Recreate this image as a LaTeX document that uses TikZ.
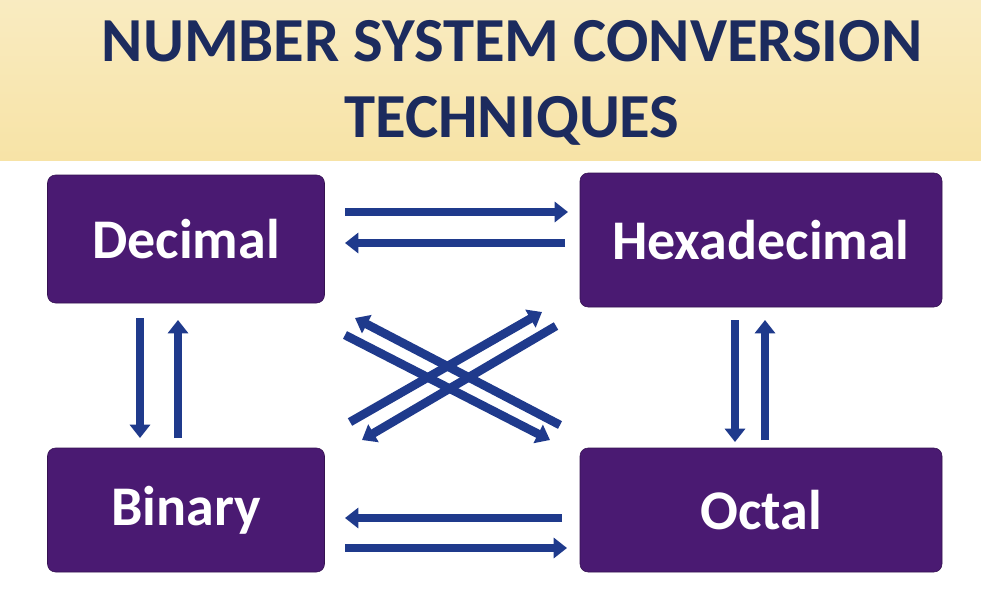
\documentclass[tikz,border=0pt]{standalone}
\usepackage{fontspec}
\setmainfont{Carlito}
\usetikzlibrary{arrows.meta}
\definecolor{banner}{HTML}{F7E3A6}
\definecolor{navy}{HTML}{1C2B5E}
\definecolor{boxpurple}{HTML}{4A1A72}
\definecolor{arrowblue}{HTML}{1F3A8C}
\tikzset{
  numbox/.style={draw=boxpurple!70!black, fill=boxpurple, rounded corners=6pt, text=white,
    font=\fontsize{42}{46}\selectfont\bfseries, inner sep=0pt},
  conv/.style={draw=arrowblue, line width=6.5pt, -{Triangle[length=10pt,width=15pt]}},
}
\begin{document}
\begin{tikzpicture}[x=0.75pt,y=-0.75pt]
\useasboundingbox (0,0) rectangle (981,590);
\fill[white] (0,0) rectangle (981,590);
\shade[top color=banner!70!white, bottom color=banner] (0,0) rectangle (981,160);
\node[text=navy, font=\fontsize{47}{57}\selectfont\bfseries, align=center] (title) at (512,83)
  {NUMBER SYSTEM CONVERSION\\TECHNIQUES};

\node[numbox, minimum width=277*0.75pt, minimum height=128*0.75pt] (dec) at (186,239) {Decimal};
\node[numbox, minimum width=362*0.75pt, minimum height=134*0.75pt] (hex) at (761,240) {Hexadecimal};
\node[numbox, minimum width=277*0.75pt, minimum height=124*0.75pt] (bin) at (186,510) {Binary};
\node[numbox, minimum width=362*0.75pt, minimum height=124*0.75pt] (oct) at (761,510) {Octal};

% horizontal pairs
\coordinate (a1) at (345,212); \coordinate (a2) at (568,212);
\coordinate (b1) at (565,243); \coordinate (b2) at (345,243);
\draw[conv] (a1) -- (a2);
\draw[conv] (b1) -- (b2);
\coordinate (c1) at (562,518); \coordinate (c2) at (345,518);
\coordinate (d1) at (345,548); \coordinate (d2) at (567,548);
\draw[conv] (c1) -- (c2);
\draw[conv] (d1) -- (d2);
% vertical pairs
\coordinate (e1) at (140,318); \coordinate (e2) at (140,438);
\coordinate (f1) at (178,438); \coordinate (f2) at (178,320);
\draw[conv] (e1) -- (e2);
\draw[conv] (f1) -- (f2);
\coordinate (g1) at (735,320); \coordinate (g2) at (735,442);
\coordinate (h1) at (765,440); \coordinate (h2) at (765,320);
\draw[conv] (g1) -- (g2);
\draw[conv] (h1) -- (h2);
% diagonals
\coordinate (i1) at (345,335); \coordinate (i2) at (550,440);
\coordinate (j1) at (560,425); \coordinate (j2) at (355,318);
\coordinate (k1) at (350,422); \coordinate (k2) at (542,312);
\coordinate (l1) at (556,326); \coordinate (l2) at (362,440);
\draw[conv] (i1) -- (i2);
\draw[conv] (j1) -- (j2);
\draw[conv] (k1) -- (k2);
\draw[conv] (l1) -- (l2);
\end{tikzpicture}
\end{document}
